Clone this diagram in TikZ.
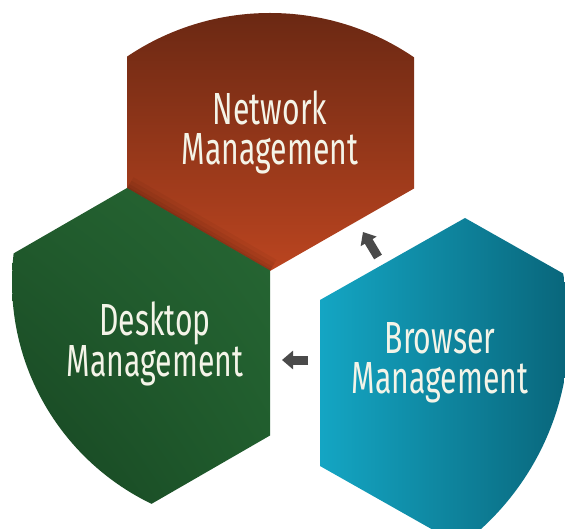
\documentclass[tikz,border=0pt]{standalone}
\usepackage{fontspec}
\setmainfont[FakeStretch=0.67]{Fira Sans}
\usetikzlibrary{arrows.meta,shadings}
\definecolor{redtop}{HTML}{6A2813}
\definecolor{redbot}{HTML}{BC4520}
\definecolor{greenUL}{HTML}{215C2D}
\definecolor{greenUR}{HTML}{276734}
\definecolor{greenLL}{HTML}{164221}
\definecolor{greenLR}{HTML}{1F5B2C}
\definecolor{bluel}{HTML}{14A6C4}
\definecolor{bluer}{HTML}{09667B}
\definecolor{txt}{HTML}{F4F4E8}
\definecolor{arrowgray}{HTML}{4A4A4A}
\begin{document}
\begin{tikzpicture}[x=1pt,y=-1pt,
  label/.style={text=txt, font=\fontsize{45}{40}\selectfont, align=center, inner sep=0pt},
  blockarrow/.style={draw=arrowgray, line width=9pt, -{Triangle[length=11pt,width=18pt]}}]
\useasboundingbox (0,0) rectangle (565,529);
% Network (red)
\begin{scope}
  \clip (270,271) -- (127,188.5) -- (127,23.5) -- (270,-59) -- (414,23.5) -- (414,188.5) -- cycle;
  \clip (270,269) circle (256pt);
  \shade[top color=redtop, bottom color=redbot] (120,10) rectangle (420,275);
  \foreach \w/\o in {26/0.04, 18/0.05, 10/0.06, 4/0.07}{
    \draw[black, opacity=\o, line width=\w pt] (127,188.5) -- (270,271);}
\end{scope}
% Desktop (green)
\begin{scope}
  \clip (127,188) -- (270,270.5) -- (270,435.5) -- (127,518) -- (-16,435.5) -- (-16,270.5) -- cycle;
  \clip (258,282) circle (246pt);
  \shade[upper left=greenUL, upper right=greenUR, lower left=greenLL, lower right=greenLR] (0,188) rectangle (272,520);
\end{scope}
% Browser (blue)
\begin{scope}
  \clip (465,218) -- (610,300) -- (610,466) -- (465,548) -- (320,466) -- (320,300) -- cycle;
  \clip (300,330) circle (269pt);
  \shade[left color=bluel, right color=bluer] (318,215) rectangle (567,531);
\end{scope}
% labels
\node[label] (net) at (270,132) {Network\\Management};
\node[label] (desk) at (155,344) {Desktop\\Management};
\node[label] (brow) at (440,363) {Browser\\Management};
% arrows
\coordinate (a1from) at (378,257);
\coordinate (a1to) at (363,232);
\coordinate (a2from) at (308,360);
\coordinate (a2to) at (282,360);
\draw[blockarrow] (a1from) -- (a1to);
\draw[blockarrow] (a2from) -- (a2to);
\end{tikzpicture}
\end{document}
